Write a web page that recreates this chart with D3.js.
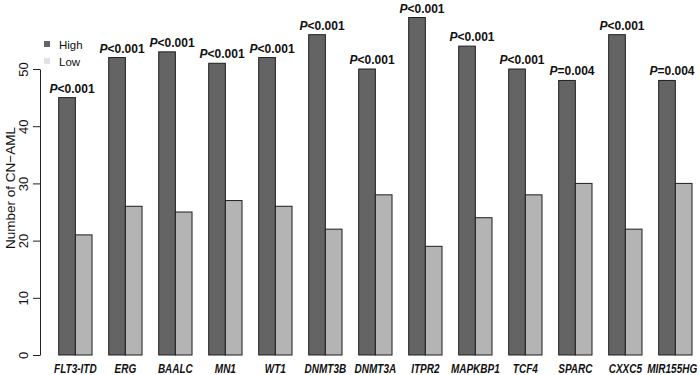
<!DOCTYPE html>
<html>
<head>
<meta charset="utf-8">
<script src="https://cdn.jsdelivr.net/npm/d3@7"></script>
<style>
  body { margin: 0; background: #fff; }
  svg text { font-family: "Liberation Sans", Arial, sans-serif; fill: #111; }
</style>
</head>
<body>
<div id="chart" style="width:700px;height:375px"></div>
<script>
const genes = ["FLT3-ITD", "ERG", "BAALC", "MN1", "WT1", "DNMT3B", "DNMT3A", "ITPR2", "MAPKBP1", "TCF4", "SPARC", "CXXC5", "MIR155HG"];
const highCounts = [45, 52, 53, 51, 52, 56, 50, 59, 54, 50, 48, 56, 48];
const lowCounts = [21, 26, 25, 27, 26, 22, 28, 19, 24, 28, 30, 22, 30];
const pSigns = ["<", "<", "<", "<", "<", "<", "<", "<", "<", "<", "=", "<", "="];
const pValues = ["0.001", "0.001", "0.001", "0.001", "0.001", "0.001", "0.001", "0.001", "0.001", "0.001", "0.004", "0.001", "0.004"];
const groups = ["High", "Low"];
const yTicks = [0, 10, 20, 30, 40, 50];

function renderChart(containerSelector) {
    const container = d3.select(containerSelector);
    const width = 700, height = 375;

    const svg = container.append("svg")
        .attr("width", width)
        .attr("height", height);

    const chartData = genes.map((g, i) => ({ gene: g, High: highCounts[i], Low: lowCounts[i], sign: pSigns[i], p: pValues[i] }));

    const x0 = d3.scaleBand()
        .domain(genes)
        .range([58.7, 692])
        .paddingInner(1 / 3)
        .paddingOuter(0);

    const x1 = d3.scaleBand()
        .domain(groups)
        .range([0, x0.bandwidth()])
        .padding(0);

    const y = d3.scaleLinear()
        .domain([0, 50])
        .range([355, 69]);

    const color = d3.scaleOrdinal()
        .domain(groups)
        .range(["#646464", "#b4b4b4"]);

    // y axis, R style
    const yAxis = svg.append("g")
        .attr("transform", "translate(40,0)")
        .call(d3.axisLeft(y).tickValues(yTicks).tickSize(7).tickSizeOuter(0));
    yAxis.select(".domain").attr("stroke", "#222");
    yAxis.selectAll(".tick line").attr("stroke", "#222");
    yAxis.selectAll(".tick text")
        .attr("x", null)
        .attr("dy", null)
        .attr("transform", "translate(-12,0) rotate(-90)")
        .attr("text-anchor", "middle")
        .style("font-size", "13px")
        .style("font-family", "'Liberation Sans', Arial, sans-serif")
        .attr("fill", "#222");

    svg.append("text")
        .attr("transform", "translate(15,188) rotate(-90)")
        .attr("text-anchor", "middle")
        .style("font-size", "13.5px")
        .text("Number of CN\u2212AML");

    // Bars
    const g = svg.append("g")
        .selectAll("g")
        .data(chartData)
        .join("g")
        .attr("transform", d => `translate(${x0(d.gene)},0)`);

    g.selectAll("rect")
        .data(d => groups.map(key => ({ key, value: d[key] })))
        .join("rect")
        .attr("x", d => x1(d.key))
        .attr("y", d => y(d.value))
        .attr("width", x1.bandwidth())
        .attr("height", d => y(0) - y(d.value))
        .attr("fill", d => color(d.key))
        .attr("stroke", "#1e1e1e")
        .attr("stroke-width", 1);

    // P value labels
    const pl = g.append("text")
        .attr("x", x1("High") + x1.bandwidth() / 2 + 5)
        .attr("y", d => y(d.High) - 5)
        .attr("text-anchor", "middle")
        .style("font-size", "12px")
        .style("font-weight", "bold");
    pl.append("tspan").style("font-style", "italic").text("P");
    pl.append("tspan").text(d => d.sign + d.p);

    // gene labels, squeezed horizontally like a narrow font
    g.append("text")
        .attr("transform", d => {
            let cx = x0(d.gene) + x0.bandwidth() / 2;
            const halfW = d.gene.length * 12.5 * 0.62 * 0.8 / 2;
            if (cx + halfW > width - 3) cx = width - 3 - halfW;
            return `translate(${cx - x0(d.gene)},373) scale(0.8,1)`;
        })
        .attr("text-anchor", "middle")
        .style("font-size", "12.5px")
        .style("font-weight", "bold")
        .style("font-style", "italic")
        .text(d => d.gene);

    // Legend
    const legend = svg.append("g").attr("transform", "translate(44,41)");
    groups.forEach((c, i) => {
        const lg = legend.append("g").attr("transform", `translate(0, ${i * 17})`);
        lg.append("rect").attr("width", 6).attr("height", 6)
            .attr("fill", i === 0 ? "#646464" : "#e2e2e2");
        lg.append("text").attr("x", 15).attr("y", 7.5).text(c).style("font-size", "11.5px");
    });
}

renderChart("#chart");
</script>
</body>
</html>
